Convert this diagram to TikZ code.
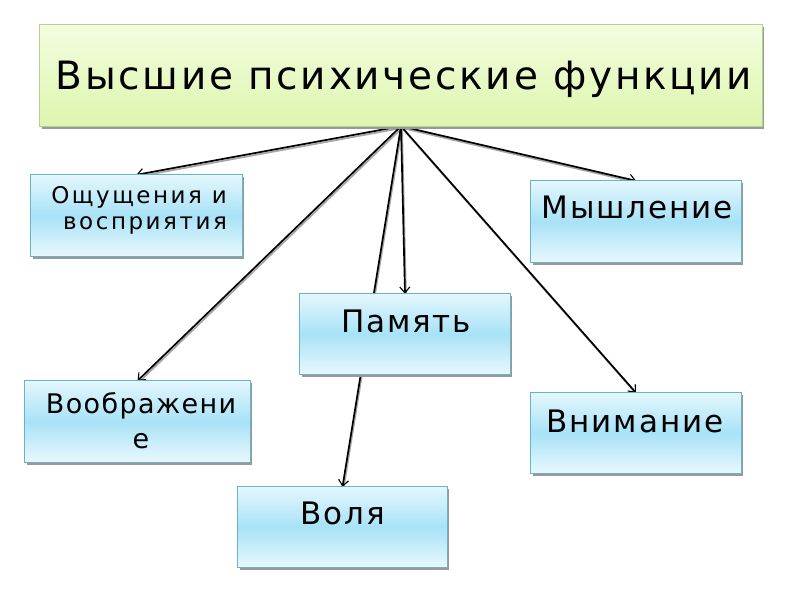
\documentclass[tikz,border=0pt]{standalone}
\usepackage{fontspec}
\setmainfont{DejaVu Sans}
\newfontfamily\fttitle[LetterSpace=7]{DejaVu Sans}
\newfontfamily\ftbox[LetterSpace=6]{DejaVu Sans}
\newfontfamily\ftvoob[LetterSpace=5]{DejaVu Sans}
\newfontfamily\ftsmall[LetterSpace=11]{DejaVu Sans}
\usetikzlibrary{arrows.meta,shadows}
\definecolor{bluemid}{HTML}{A8E2F7}
\definecolor{bluetop}{HTML}{E4F7FD}
\definecolor{bluebot}{HTML}{E8F8FD}
\definecolor{blueedge}{HTML}{6AB3C4}
\definecolor{greentop}{HTML}{F3FDDF}
\definecolor{greenbot}{HTML}{DDF6AE}
\definecolor{greenedge}{HTML}{B9CF90}
\tikzset{
  fbox/.style={draw=blueedge, line width=0.8pt, top color=bluetop, bottom color=bluebot, middle color=bluemid,
    drop shadow={shadow xshift=2pt, shadow yshift=-2.5pt, fill=black!40, opacity=1}},
  tbox/.style={draw=greenedge, line width=0.8pt, top color=greentop, bottom color=greenbot,
    drop shadow={shadow xshift=2pt, shadow yshift=-2.5pt, fill=black!40, opacity=1}},
  lbl/.style={font=\ftbox\fontsize{31}{36}\selectfont, align=center, inner sep=0pt, anchor=base},
  conn/.style={line width=1.7pt, -{Straight Barb[length=6pt,width=10pt,line width=1.1pt]}},
  connsh/.style={line width=1.7pt, black!35},
}
\begin{document}
\begin{tikzpicture}[x=1pt,y=-1pt]
\useasboundingbox (0,0) rectangle (800,600);
% invisible anchors for boxes
\node[minimum width=722pt, minimum height=101pt, inner sep=0pt] (t) at (401,75.5) {};
\node[minimum width=211pt, minimum height=81pt, inner sep=0pt] (o) at (136.5,215.5) {};
\node[minimum width=210pt, minimum height=81pt, inner sep=0pt] (m) at (636,221.5) {};
\node[minimum width=210pt, minimum height=80pt, inner sep=0pt] (p) at (405,334) {};
\node[minimum width=225pt, minimum height=81pt, inner sep=0pt] (v) at (137.5,421.5) {};
\node[minimum width=210pt, minimum height=80pt, inner sep=0pt] (vn) at (636,433) {};
\node[minimum width=209pt, minimum height=80pt, inner sep=0pt] (vol) at (342.5,527) {};
% connectors (shadow then line)
\foreach \b in {o,m,p,v,vn,vol}{
  \draw[connsh] ([shift={(1,1.8)}]t.south) -- ([shift={(1,1.8)}]\b.north);
}
\foreach \b in {o,m,p,v,vn,vol}{
  \draw[conn] (t.south) -- (\b.north);
}
% boxes
\path[tbox] (t.north west) rectangle (t.south east);
\foreach \b in {o,m,p,v,vn,vol}{
  \path[fbox] (\b.north west) rectangle (\b.south east);
}
% labels (anchor base = baseline of last line)
\node[lbl, font=\fttitle\fontsize{39}{46}\selectfont] (tl) at (404,89) {Высшие психические функции};
\node[inner sep=0pt, align=right, anchor=base east, font=\ftsmall\fontsize{23}{26}\selectfont] (ol) at (227,229) {Ощущения и\\восприятия};
\node[lbl] (ml) at (637,218) {Мышление};
\node[lbl] (pl) at (406,332) {Память};
\node[lbl, font=\ftvoob\fontsize{27}{35}\selectfont] (vl) at (141,448) {Воображени\\е};
\node[lbl] (vnl) at (635,432) {Внимание};
\node[lbl] (voll) at (343,524) {Воля};
\end{tikzpicture}
\end{document}
